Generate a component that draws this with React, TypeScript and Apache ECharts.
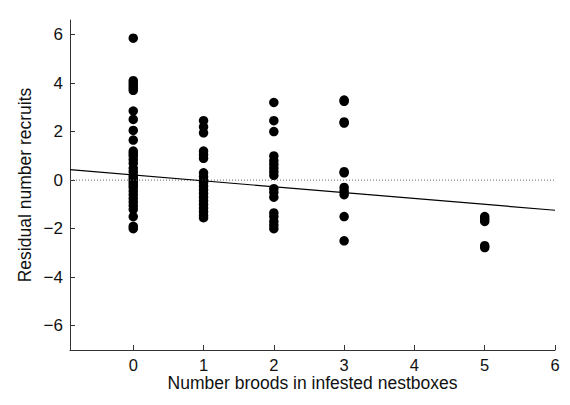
import React, { useEffect, useRef } from "react";
import * as echarts from "echarts";

const xTicks = [0, 1, 2, 3, 4, 5, 6];
const yTicks = [-6, -4, -2, 0, 2, 4, 6];

const broods0 = [5.85, 4.1, 4.0, 3.9, 3.8, 3.7, 2.85, 2.5, 2.05, 1.65, 1.2, 1.1, 1.0, 0.85, 0.7, 0.5, 0.35, 0.2, 0.1, 0.0, -0.1, -0.2, -0.3, -0.45, -0.6, -0.75, -0.9, -1.05, -1.2, -1.5, -1.9, -2.0];
const broods1 = [2.45, 2.2, 1.95, 1.2, 1.05, 0.9, 0.3, 0.15, 0.0, -0.1, -0.25, -0.4, -0.55, -0.7, -0.85, -1.0, -1.15, -1.3, -1.45, -1.55];
const broods2 = [3.2, 2.45, 2.0, 1.0, 0.8, 0.65, 0.5, 0.35, 0.2, -0.35, -0.5, -0.7, -1.35, -1.5, -1.7, -1.85, -2.0];
const broods3 = [3.3, 3.25, 2.4, 2.35, 0.35, 0.3, -0.3, -0.45, -0.6, -1.5, -2.5];
const broods5 = [-1.5, -1.6, -1.7, -2.7, -2.78];

const groups: [number, number[]][] = [
  [0, broods0],
  [1, broods1],
  [2, broods2],
  [3, broods3],
  [5, broods5],
];

const regression = [
  [-0.9, 0.43],
  [6, -1.24],
];
const zeroLine = [
  [-0.9, 0],
  [6, 0],
];

export default function App() {
  const ref = useRef<HTMLDivElement>(null);
  useEffect(() => {
    if (!ref.current) return;
    const chart = echarts.init(ref.current, undefined, { renderer: "svg" });
    const points: number[][] = [];
    groups.forEach(([x, ys]) => ys.forEach((y) => points.push([x, y])));
    const font = "'Liberation Sans', Arial, sans-serif";
    chart.setOption({
      animation: false,
      backgroundColor: "#ffffff",
      grid: { left: 70, right: 15, top: 20, bottom: 55, containLabel: false },
      xAxis: {
        type: "value",
        min: -0.9,
        max: 6,
        name: "Number broods in infested nestboxes",
        nameLocation: "middle",
        nameGap: 24,
        nameMoveOverlap: false,
        nameTextStyle: { fontFamily: font, fontSize: 17.5, color: "#111" },
        axisLine: { show: true, onZero: false, lineStyle: { color: "#333", width: 1 } },
        axisTick: { show: true, inside: true, length: 5, customValues: xTicks, lineStyle: { color: "#333" } },
        axisLabel: { customValues: xTicks, fontFamily: font, fontSize: 16.5, color: "#111", margin: 6 },
        splitLine: { show: false },
      },
      yAxis: {
        type: "value",
        min: -7,
        max: 6.6,
        name: "Residual number recruits",
        nameLocation: "middle",
        nameGap: 36,
        nameMoveOverlap: false,
        nameTextStyle: { fontFamily: font, fontSize: 17.5, color: "#111" },
        axisLine: { show: true, onZero: false, lineStyle: { color: "#333", width: 1 } },
        axisTick: { show: true, inside: true, length: 5, customValues: yTicks, lineStyle: { color: "#333" } },
        axisLabel: {
          customValues: yTicks,
          fontFamily: font,
          fontSize: 17,
          color: "#111",
          margin: 7,
          formatter: (v: number) => (v < 0 ? "\u2212" + Math.abs(v) : String(v)),
        },
        splitLine: { show: false },
      },
      series: [
        {
          type: "line",
          data: zeroLine,
          symbol: "none",
          lineStyle: { color: "#666", width: 1, type: [1, 2] },
          silent: true,
        },
        {
          type: "line",
          data: regression,
          symbol: "none",
          lineStyle: { color: "#000", width: 1.2 },
          silent: true,
        },
        {
          type: "scatter",
          data: points,
          symbol: "circle",
          symbolSize: 9.5,
          itemStyle: { color: "#000", opacity: 1 },
        },
      ],
    });
    return () => chart.dispose();
  }, []);
  return (
    <div
      ref={ref}
      style={{ position: "absolute", left: 0, top: 0, width: 570, height: 405 }}
    />
  );
}
